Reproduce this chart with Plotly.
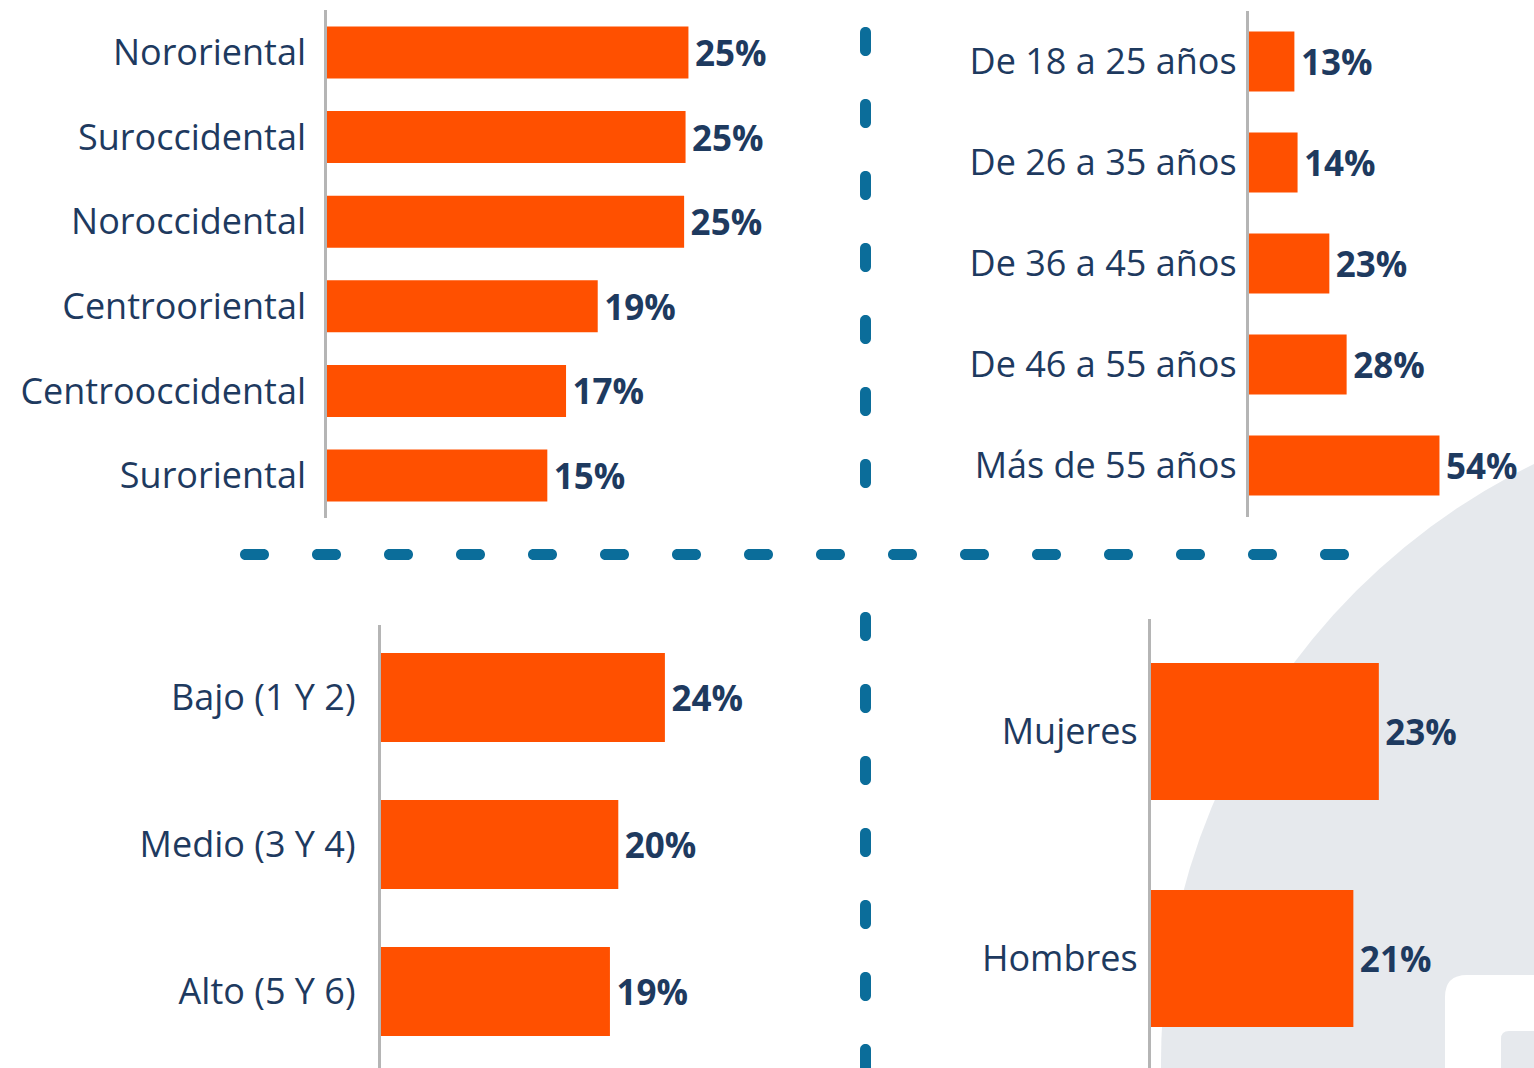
import plotly.graph_objects as go

# ---------------- data ----------------
region_labels = ["Nororiental", "Suroccidental", "Noroccidental", "Centrooriental",
                 "Centrooccidental", "Suroriental"]
region_values = [25.1, 24.9, 24.8, 18.8, 16.6, 15.3]

age_labels = ["De 18 a 25 años", "De 26 a 35 años", "De 36 a 45 años",
              "De 46 a 55 años", "Más de 55 años"]
age_values = [13.0, 13.9, 22.9, 27.8, 54.1]

strata_labels = ["Bajo (1 Y 2)", "Medio (3 Y 4)", "Alto (5 Y 6)"]
strata_values = [23.8, 19.9, 19.2]

gender_labels = ["Mujeres", "Hombres"]
gender_values = [23.3, 20.7]

# ---------------- style ----------------
W, H = 1534, 1068
BAR = "#FF5000"
NAVY = "#1e3a5f"
DASH = "#0b6d9a"
AXIS = "#b5b5b5"
BG_GREY = "#e6e9ed"
FONT = "Open Sans"

# panel geometry in pixels
panels = [
    dict(cats=region_labels, vals=region_values, zero=327, end=840, scale=14.4,
         top=10, bottom=518, c0=52.5, step=84.6, bar=52, standoff=11),
    dict(cats=age_labels, vals=age_values, zero=1248.5, end=1534, scale=3.53,
         top=11, bottom=517, c0=61.5, step=101, bar=60, standoff=2),
    dict(cats=strata_labels, vals=strata_values, zero=380.5, end=840, scale=11.95,
         top=625, bottom=1068, c0=697.5, step=147, bar=89, standoff=15),
    dict(cats=gender_labels, vals=gender_values, zero=1150.5, end=1534, scale=9.8,
         top=619, bottom=1068, c0=731.5, step=227, bar=137, standoff=3),
]

fig = go.Figure()
layout_axes = {}
for i, p in enumerate(panels, start=1):
    sfx = "" if i == 1 else str(i)
    fig.add_trace(go.Bar(
        x=p["vals"], y=p["cats"], orientation="h",
        marker=dict(color=BAR, line=dict(width=0)),
        width=p["bar"] / p["step"],
        texttemplate="\u200a%{x:.0f}%", textposition="outside",
        textfont=dict(family=FONT, size=35, color=NAVY, weight=700),
        constraintext="none", cliponaxis=False,
        xaxis="x" + sfx, yaxis="y" + sfx, showlegend=False, hoverinfo="skip",
    ))
    r_top = (p["top"] - p["c0"]) / p["step"]
    r_bot = (p["bottom"] - p["c0"]) / p["step"]
    layout_axes["xaxis" + sfx] = dict(
        domain=[p["zero"] / W, p["end"] / W],
        range=[0, (p["end"] - p["zero"]) / p["scale"]],
        visible=False, anchor="y" + sfx, fixedrange=True,
    )
    layout_axes["yaxis" + sfx] = dict(
        domain=[1 - p["bottom"] / H, 1 - p["top"] / H],
        type="category", categoryorder="array", categoryarray=p["cats"],
        range=[r_bot, r_top], anchor="x" + sfx,
        showline=True, linecolor=AXIS, linewidth=2.5,
        showgrid=False, zeroline=False, ticks="",
        ticklabelstandoff=p["standoff"],
        tickfont=dict(family=FONT, size=36, color=NAVY),
        fixedrange=True,
    )

# ---------------- decorations ----------------
def px(x):
    return x / W

def py(y):
    return 1 - y / H

def stadium(x0, y0, x1, y1):
    """Rounded dash between pixel corners (x0,y0)-(x1,y1)."""
    w, h = x1 - x0, y1 - y0
    k = 4 / 3
    if w >= h:
        r = h / 2
        a, b = x0 + r, x1 - r
        d = (f"M{px(a)},{py(y0)} L{px(b)},{py(y0)} "
             f"C{px(b + k * r)},{py(y0)} {px(b + k * r)},{py(y1)} {px(b)},{py(y1)} "
             f"L{px(a)},{py(y1)} "
             f"C{px(a - k * r)},{py(y1)} {px(a - k * r)},{py(y0)} {px(a)},{py(y0)} Z")
    else:
        r = w / 2
        a, b = y0 + r, y1 - r
        d = (f"M{px(x0)},{py(a)} L{px(x0)},{py(b)} "
             f"C{px(x0)},{py(b + k * r)} {px(x1)},{py(b + k * r)} {px(x1)},{py(b)} "
             f"L{px(x1)},{py(a)} "
             f"C{px(x1)},{py(a - k * r)} {px(x0)},{py(a - k * r)} {px(x0)},{py(a)} Z")
    return d

shapes = []
# background grey circle
cx, cy, R = 1827, 1062, 666
shapes.append(dict(type="circle", xref="paper", yref="paper",
                   x0=px(cx - R), x1=px(cx + R), y0=py(cy + R), y1=py(cy - R),
                   fillcolor=BG_GREY, line=dict(width=0), layer="below"))
# white rounded block (logo fragment) in the corner
rr = 22
x0w, y0w, x1w, y1w = 1445, 975, 1560, 1100
shapes.append(dict(type="path", xref="paper", yref="paper", layer="below",
                   path=(f"M{px(x0w)},{py(y1w)} L{px(x0w)},{py(y0w + rr)} "
                         f"Q{px(x0w)},{py(y0w)} {px(x0w + rr)},{py(y0w)} "
                         f"L{px(x1w)},{py(y0w)} L{px(x1w)},{py(y1w)} Z"),
                   fillcolor="white", line=dict(width=0)))
rr2 = 8
x0g, y0g = 1501, 1031
shapes.append(dict(type="path", xref="paper", yref="paper", layer="below",
                   path=(f"M{px(x0g)},{py(1100)} L{px(x0g)},{py(y0g + rr2)} "
                         f"Q{px(x0g)},{py(y0g)} {px(x0g + rr2)},{py(y0g)} "
                         f"L{px(1560)},{py(y0g)} L{px(1560)},{py(1100)} Z"),
                   fillcolor=BG_GREY, line=dict(width=0)))

# horizontal dashed separator
for k in range(16):
    xs = 240 + 72 * k
    shapes.append(dict(type="path", xref="paper", yref="paper", layer="above",
                       path=stadium(xs, 549, xs + 29, 560),
                       fillcolor=DASH, line=dict(width=0)))
# vertical dashed separator (top and bottom halves)
for k in range(7):
    for ys in (27 + 72 * k, 612 + 72 * k):
        shapes.append(dict(type="path", xref="paper", yref="paper", layer="above",
                           path=stadium(860, ys, 871, ys + 29),
                           fillcolor=DASH, line=dict(width=0)))

fig.update_layout(
    width=W, height=H,
    margin=dict(l=0, r=0, t=0, b=0),
    paper_bgcolor="white", plot_bgcolor="rgba(0,0,0,0)",
    font=dict(family=FONT, color=NAVY),
    shapes=shapes,
    **layout_axes,
)

fig.write_html("out.html", config={"displayModeBar": False},
               post_script="document.body.style.margin='0';document.body.style.overflow='hidden';")
